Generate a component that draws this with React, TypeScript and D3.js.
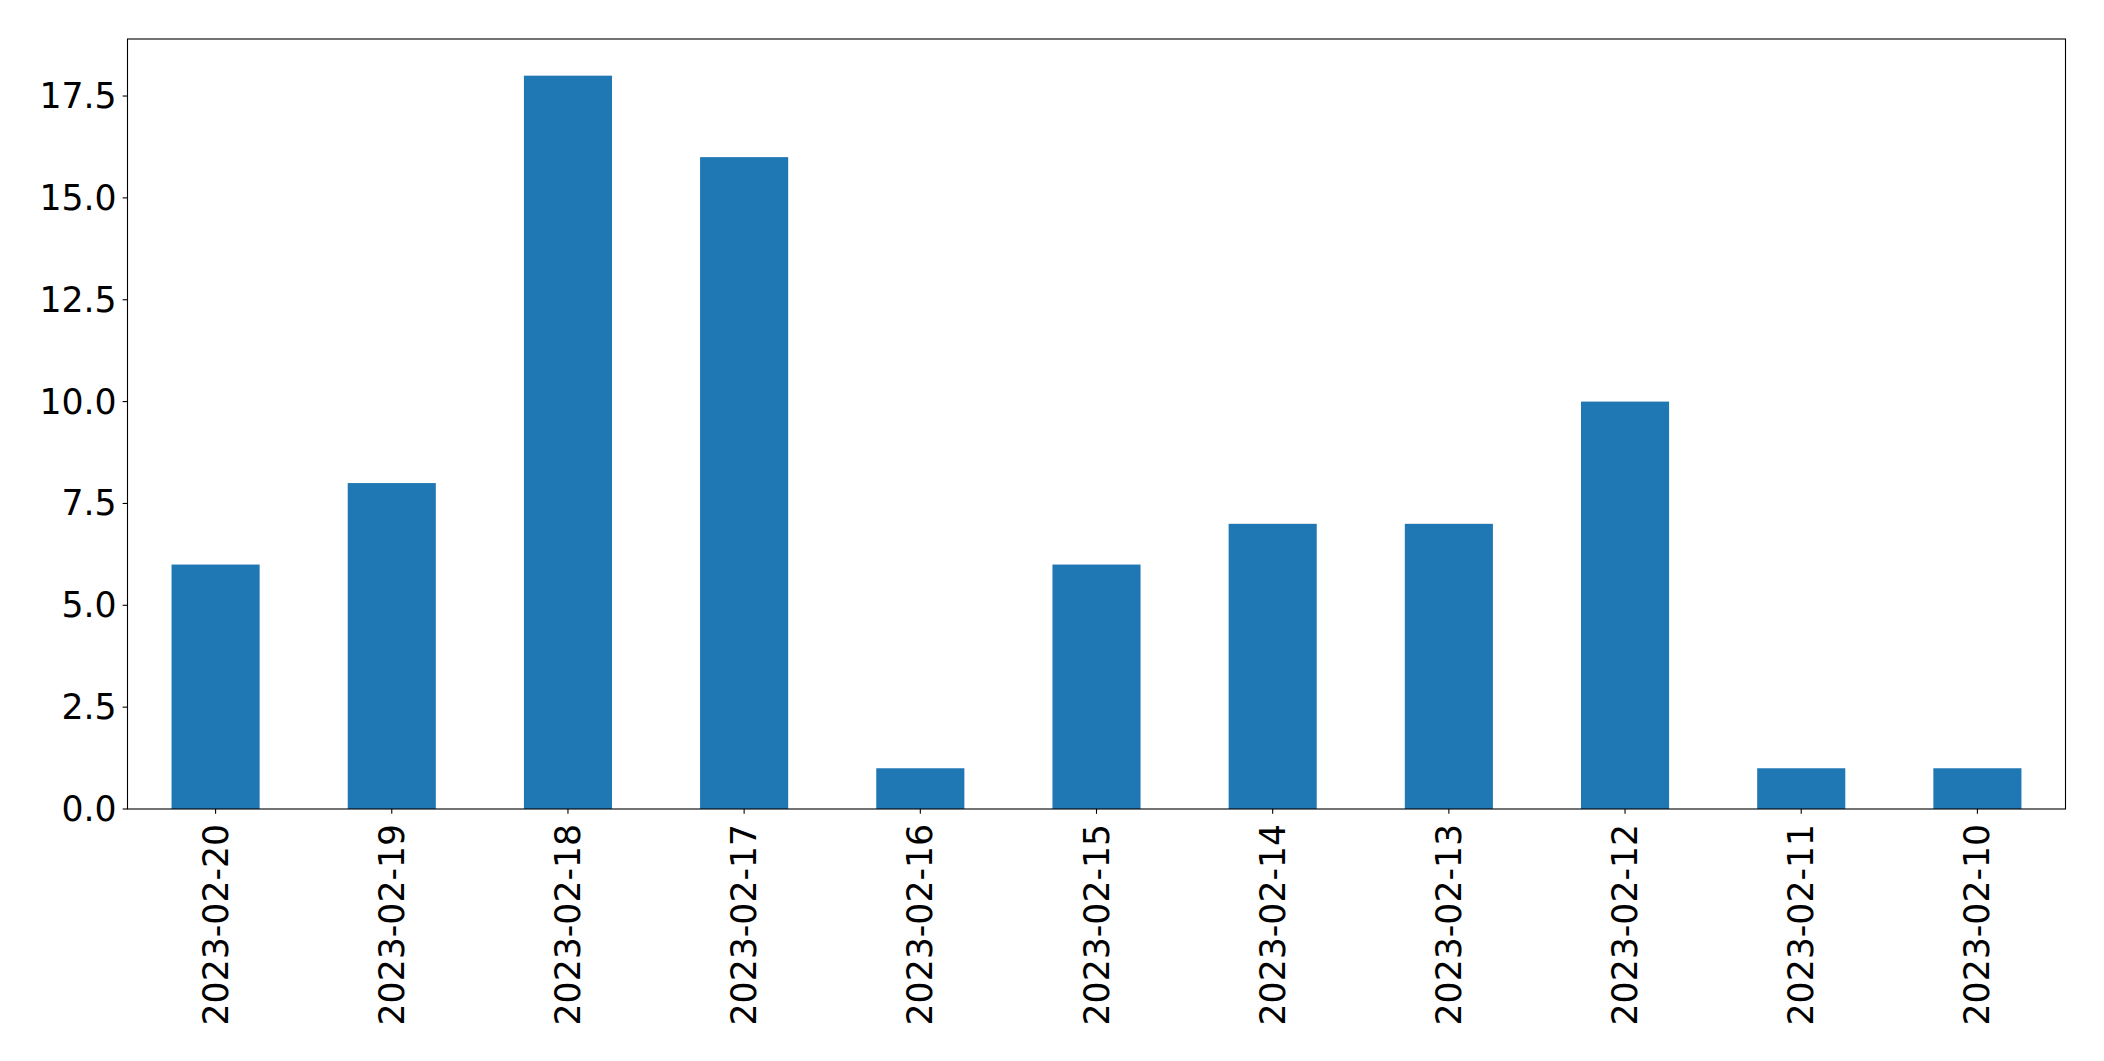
import React from "react";
import * as d3 from "d3";

const categories = [
  "2023-02-20", "2023-02-19", "2023-02-18", "2023-02-17", "2023-02-16", "2023-02-15",
  "2023-02-14", "2023-02-13", "2023-02-12", "2023-02-11", "2023-02-10",
];
const values = [6, 8, 18, 16, 1, 6, 7, 7, 10, 1, 1];
const yTicks = [0, 2.5, 5, 7.5, 10, 12.5, 15, 17.5];

const W = 2104;
const H = 1061;
const M = { left: 127.5, right: 2065.5, top: 39, bottom: 809 };
const FONT = "DejaVu Sans, sans-serif";
const FS = 34.7;
const TICK = 4.86;

export default function App() {
  const x = d3
    .scaleBand<string>()
    .domain(categories)
    .range([M.left, M.right])
    .paddingInner(0.5)
    .paddingOuter(0.25);
  const yMax = d3.max(values)! * 1.05;
  const y = d3.scaleLinear().domain([0, yMax]).range([M.bottom, M.top]);

  return (
    <svg
      width={W}
      height={H}
      style={{ position: "absolute", left: 0, top: 0, background: "#fff" }}
      fontFamily={FONT}
    >
      <rect x={0} y={0} width={W} height={H} fill="#fff" />
      {categories.map((c, i) => (
        <rect
          key={c}
          x={x(c)}
          y={y(values[i])}
          width={x.bandwidth()}
          height={y(0) - y(values[i])}
          fill="#1f77b4"
        />
      ))}
      <rect
        x={M.left}
        y={M.top}
        width={M.right - M.left}
        height={M.bottom - M.top}
        fill="none"
        stroke="#000"
        strokeWidth={1.1}
      />
      {yTicks.map((t) => (
        <g key={t}>
          <line x1={M.left - TICK} x2={M.left} y1={y(t)} y2={y(t)} stroke="#000" strokeWidth={1.1} />
          <text
            x={M.left - TICK - 6}
            y={y(t)}
            textAnchor="end"
            dominantBaseline="central"
            fontSize={FS}
            fill="#000"
          >
            {t.toFixed(1)}
          </text>
        </g>
      ))}
      {categories.map((c) => {
        const cx = x(c)! + x.bandwidth() / 2;
        const ty = M.bottom + TICK + 10;
        return (
          <g key={c}>
            <line x1={cx} x2={cx} y1={M.bottom} y2={M.bottom + TICK} stroke="#000" strokeWidth={1.1} />
            <text
              transform={`translate(${cx},${ty}) rotate(-90)`}
              textAnchor="end"
              dominantBaseline="central"
              fontSize={FS}
              fill="#000"
            >
              {c}
            </text>
          </g>
        );
      })}
    </svg>
  );
}
